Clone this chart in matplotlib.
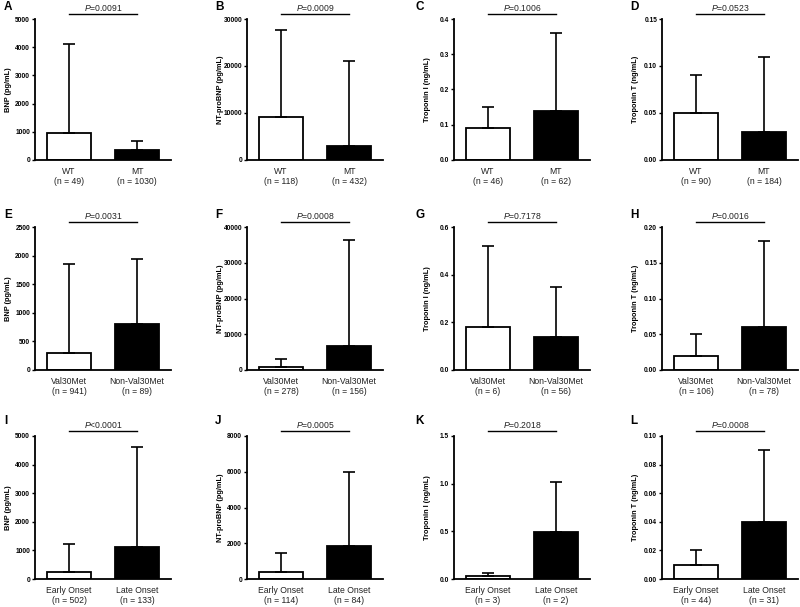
import matplotlib
matplotlib.use("Agg")
import matplotlib.pyplot as plt
import matplotlib.transforms as mtransforms

plt.rcParams['font.family'] = ['Liberation Sans', 'DejaVu Sans']
plt.rcParams['mathtext.fontset'] = 'custom'
plt.rcParams['mathtext.it'] = 'Liberation Sans:italic'
plt.rcParams['mathtext.rm'] = 'Liberation Sans'

# data
letters = ['A', 'B', 'C', 'D', 'E', 'F', 'G', 'H', 'I', 'J', 'K', 'L']
ylabels = ['BNP (pg/mL)', 'NT-proBNP (pg/mL)', 'Troponin I (ng/mL)', 'Troponin T (ng/mL)'] * 3
row_groups = [['WT', 'MT'], ['Val30Met', 'Non-Val30Met'], ['Early Onset', 'Late Onset']]
n_counts = [[49, 1030], [118, 432], [46, 62], [90, 184],
            [941, 89], [278, 156], [6, 56], [106, 78],
            [502, 133], [114, 84], [3, 2], [44, 31]]
means = [[950, 350], [9200, 2900], [0.09, 0.14], [0.05, 0.03],
         [300, 800], [700, 6800], [0.18, 0.14], [0.02, 0.06],
         [230, 1110], [380, 1850], [0.03, 0.49], [0.01, 0.04]]
tops = [[4120, 680], [27700, 21000], [0.15, 0.36], [0.09, 0.11],
        [1850, 1940], [3100, 36300], [0.52, 0.35], [0.05, 0.18],
        [1230, 4620], [1450, 6000], [0.06, 1.02], [0.02, 0.09]]
pvals = ['=0.0091', '=0.0009', '=0.1006', '=0.0523',
         '=0.0031', '=0.0008', '=0.7178', '=0.0016',
         '<0.0001', '=0.0005', '=0.2018', '=0.0008']
ymax = [5000, 30000, 0.4, 0.15, 2500, 40000, 0.6, 0.20, 5000, 8000, 1.5, 0.10]
ystep = [1000, 10000, 0.1, 0.05, 500, 10000, 0.2, 0.05, 1000, 2000, 0.5, 0.02]
decimals = [0, 0, 1, 2] * 3

W, H = 800, 607
fig = plt.figure(figsize=(W / 100, H / 100), dpi=100)

col_left = [35, 247, 454, 662]
row_top = [19, 227, 436]
row_bot = [160, 370, 579]
ax_w = 136
letter_x = [4, 215, 415, 630]
letter_y = [7, 215, 421]

for i in range(12):
    r, c = i // 4, i % 4
    left = col_left[c] / W
    bottom = 1 - row_bot[r] / H
    height = (row_bot[r] - row_top[r]) / H
    ax = fig.add_axes([left, bottom, ax_w / W, height])

    up = [tops[i][k] - means[i][k] for k in range(2)]
    ax.errorbar([0, 1], means[i], yerr=[[0, 0], up], fmt='none', ecolor='black',
                elinewidth=1.2, capsize=4, capthick=1.2, zorder=3)
    ax.bar([0, 1], means[i], width=0.66, color=['white', 'black'],
           edgecolor='black', linewidth=1.3, zorder=2)

    ax.set_xlim(-0.5, 1.5)
    ax.set_ylim(0, ymax[i])
    nt = int(round(ymax[i] / ystep[i]))
    ticks = [k * ystep[i] for k in range(nt + 1)]
    ax.set_yticks(ticks)
    ax.set_yticklabels([f'{t:.{decimals[i]}f}' for t in ticks],
                       fontsize=4.8, fontweight='bold')
    ax.set_xticks([0, 1])
    g = row_groups[r]
    ax.set_xticklabels([f'{g[k]}\n(n = {n_counts[i][k]})' for k in range(2)],
                       fontsize=6.2, color='#222222')
    ax.tick_params(axis='x', length=0, pad=5)
    ax.tick_params(axis='y', length=2.5, width=1, pad=1)

    for s in ['top', 'right']:
        ax.spines[s].set_visible(False)
    ax.spines['left'].set_linewidth(1.3)
    ax.spines['bottom'].set_linewidth(1.3)

    ax.set_ylabel(ylabels[i], fontsize=5.3, fontweight='bold')
    ax.yaxis.set_label_coords(-0.17, 0.5)

    trans = mtransforms.blended_transform_factory(ax.transData, ax.transAxes)
    ly = 1 + 5 / (row_bot[r] - row_top[r])
    ax.plot([0, 1], [ly, ly], color='black', lw=1, transform=trans, clip_on=False)
    ax.text(0.5, ly + 0.01, r'$\mathit{P}$' + pvals[i], transform=trans,
            ha='center', va='bottom', fontsize=6.2, color='#222222')

    fig.text(letter_x[c] / W, 1 - letter_y[r] / H, letters[i], fontsize=8.5,
             fontweight='bold', ha='left', va='center')

fig.savefig('out.png', dpi=100)
